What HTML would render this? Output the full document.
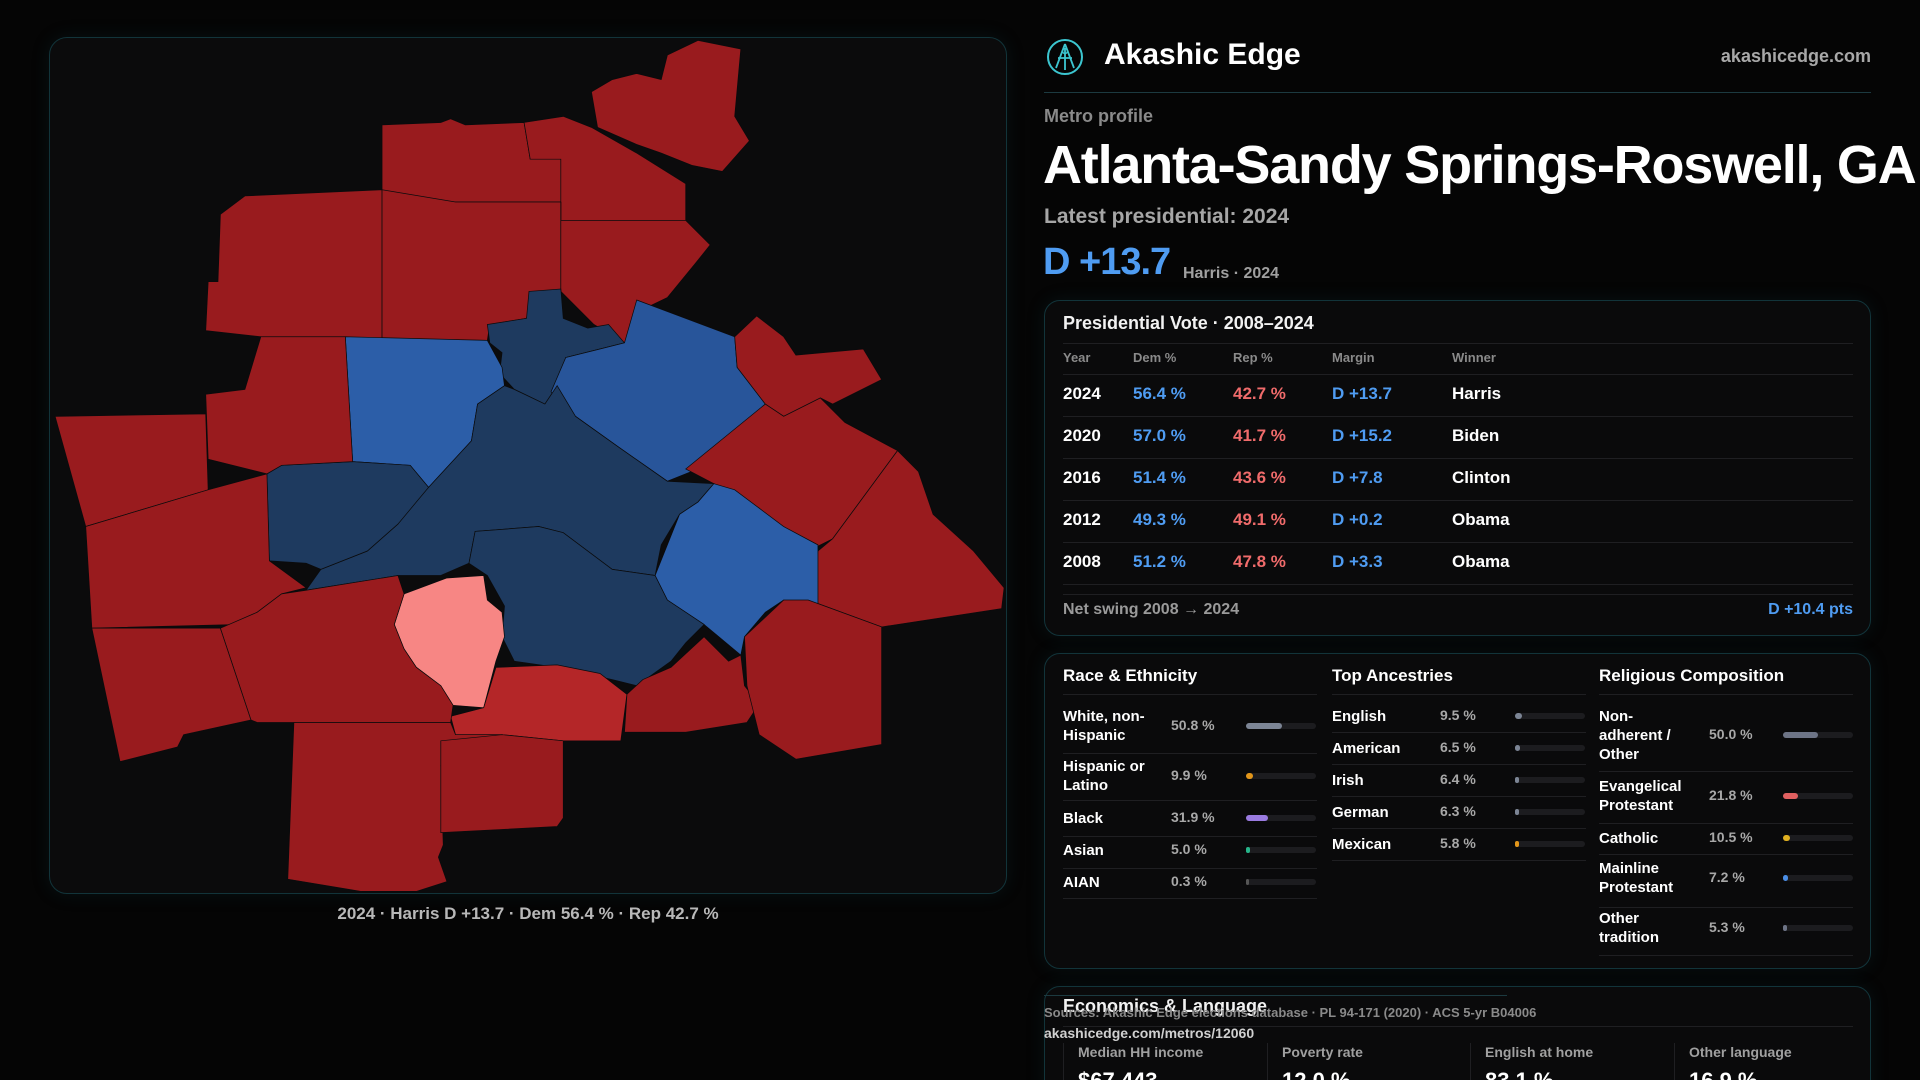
<!DOCTYPE html>
<html><head><meta charset="utf-8">
<style>
*{box-sizing:border-box;margin:0;padding:0}
html,body{width:1920px;height:1080px;overflow:hidden;background:#050505}
body{font-family:"Liberation Sans",sans-serif;color:#f2f2f2}
#root{position:relative;width:1920px;height:1080px;overflow:hidden}
.abs{position:absolute;white-space:nowrap}
.card{position:absolute;border:1px solid #12343a;border-radius:16px;background:#0a0a0b;box-shadow:0 0 18px rgba(20,80,90,0.18)}
.hl{position:absolute;height:1px;background:#1f1f22}
.g{color:#8d8d8d}
.bl{color:#4f9cf2}
.rd{color:#f06b6b}
.track{position:absolute;height:6px;border-radius:3px;background:#1c1c1f}
.fill{position:absolute;left:0;top:0;height:6px;border-radius:3px}
</style></head><body>
<div id="root">

<div class="card" style="left:49px;top:37px;width:958px;height:857px;border-radius:18px;background:#0b0b0c"></div>
<svg style="position:absolute;left:0;top:0" width="1920" height="1080" viewBox="0 0 1568 882">
<g stroke="#0b0b0c" stroke-width="0.6">
<polygon fill="#991b1e" points="483,75 500,65 520,60 540,65 545,45 570,33 605,40 600,95 612,115 590,140 565,135 540,125 520,118 488,104"/>
<polygon fill="#991b1e" points="312,102 360,100 368,97 380,102 428,100 433,130 460,130 458,165 372,165 312,165"/>
<polygon fill="#991b1e" points="428,100 460,95 483,104 520,125 560,150 560,180 458,180 458,130 433,130"/>
<polygon fill="#991b1e" points="180,175 200,160 312,155 312,277 213,275 168,270 170,230 178,230"/>
<polygon fill="#991b1e" points="312,155 372,165 458,165 458,238 433,243 430,260 400,265 398,278 312,277"/>
<polygon fill="#991b1e" points="458,180 560,180 580,200 568,215 545,243 520,255 510,280 485,265 458,238 458,165"/>
<polygon fill="#1e3a5f" points="398,265 430,260 432,238 458,236 460,260 480,268 497,265 510,280 490,285 462,292 455,315 445,330 420,318 408,305 410,288 400,280"/>
<polygon fill="#2c5ea8" points="282,275 398,278 410,300 412,315 390,330 385,360 350,398 335,380 288,377"/>
<polygon fill="#28559a" points="520,245 600,275 602,300 625,330 570,383 545,393 505,365 470,340 450,320 462,292 490,285 510,280"/>
<polygon fill="#991b1e" points="600,275 618,258 640,275 650,290 705,285 720,310 680,330 670,325 640,340 625,330 602,300"/>
<polygon fill="#991b1e" points="560,383 625,330 640,340 670,325 690,345 733,368 680,440 660,450 620,415 583,395"/>
<polygon fill="#991b1e" points="733,368 750,385 762,420 795,450 820,480 818,497 720,512 660,490 668,450 680,440"/>
<polygon fill="#1e3a5f" points="350,398 385,360 390,330 412,315 420,318 445,330 455,315 470,340 505,365 545,393 583,395 570,410 555,420 540,445 535,470 500,465 460,435 440,430 388,434 383,460 360,470 325,470 250,482 262,465 300,450 325,428 340,398"/>
<polygon fill="#1e3a5f" points="218,387 230,380 288,377 335,380 350,398 340,410 325,428 300,450 262,465 250,460 220,458"/>
<polygon fill="#2c5ea8" points="583,395 600,400 640,430 668,445 668,500 640,490 625,500 608,520 605,535 575,510 545,490 535,470 555,420 570,410"/>
<polygon fill="#1e3a5f" points="388,434 440,430 460,435 500,465 535,470 545,490 575,510 560,525 548,540 520,560 500,555 455,545 420,540 410,520 412,495 398,470 383,460"/>
<polygon fill="#f78684" points="322,510 330,485 365,472 395,470 398,490 410,500 412,520 405,540 395,578 370,576 360,560 340,545 330,530"/>
<polygon fill="#b42628" points="395,578 405,545 455,543 490,550 512,567 507,605 460,605 410,600 372,600 368,585"/>
<polygon fill="#991b1e" points="512,567 525,555 548,545 575,520 595,540 605,535 608,560 620,575 610,590 560,598 510,598"/>
<polygon fill="#991b1e" points="608,520 640,490 660,490 720,512 720,608 650,620 620,600 610,560"/>
<polygon fill="#991b1e" points="45,340 168,338 170,400 70,430"/>
<polygon fill="#991b1e" points="70,430 170,400 218,387 220,458 250,480 230,485 210,500 195,510 75,513"/>
<polygon fill="#991b1e" points="213,275 282,275 288,377 230,380 218,387 170,375 168,322 200,318"/>
<polygon fill="#991b1e" points="75,513 180,513 205,588 150,600 145,610 98,622"/>
<polygon fill="#991b1e" points="180,513 210,500 230,485 250,482 325,470 330,485 322,510 330,530 340,545 360,560 370,576 368,590 210,590 205,588"/>
<polygon fill="#991b1e" points="240,590 368,590 372,600 410,600 405,610 360,625 362,690 358,700 365,720 340,728 295,728 235,718"/>
<polygon fill="#991b1e" points="360,605 410,600 460,605 460,668 455,675 360,680"/>
</g>
</svg>
<div class="abs" style="left:0;width:1056px;top:904px;text-align:center;font-size:17px;font-weight:bold;color:#b8b8b8">2024 · Harris D +13.7 · Dem 56.4 % · Rep 42.7 %</div>

<svg class="abs" style="left:1046px;top:38px" width="38" height="38" viewBox="0 0 38 38"><circle cx="19" cy="19" r="17" fill="none" stroke="#3cc6d0" stroke-width="2"/><path d="M19 6 L10 30 M19 6 L28 30 M12 20 H26 M19 10 V32" stroke="#3cc6d0" stroke-width="1.8" fill="none"/><circle cx="19" cy="13" r="2.5" fill="none" stroke="#3cc6d0" stroke-width="1.5"/></svg>
<div class="abs" style="left:1104px;top:38px;font-size:30px;font-weight:bold;color:#fff">Akashic Edge</div>
<div class="abs" style="right:49px;top:46px;font-size:18px;font-weight:bold;color:#a8a8a8">akashicedge.com</div>
<div class="hl" style="left:1044px;top:92px;width:827px;background:#1c3a40"></div>
<div class="abs g" style="left:1044px;top:106px;font-size:18px;font-weight:bold;color:#8a8a8a">Metro profile</div>
<div class="abs" style="left:1043px;top:134px;font-size:54px;font-weight:bold;color:#fff;letter-spacing:-1.2px">Atlanta-Sandy Springs-Roswell, GA</div>
<div class="abs" style="left:1044px;top:205px;font-size:21px;font-weight:bold;color:#a6a6a6">Latest presidential: 2024</div>
<div class="abs bl" style="left:1043px;top:241px;font-size:38px;font-weight:bold;color:#4f9cf2;letter-spacing:-1px">D +13.7</div>
<div class="abs" style="left:1183px;top:265px;font-size:16px;font-weight:bold;color:#a0a0a0">Harris · 2024</div>

<div class="card" style="left:1044px;top:300px;width:827px;height:336px"></div>
<div class="abs" style="left:1063px;top:313px;font-size:18px;font-weight:bold">Presidential Vote · 2008–2024</div>
<div class="hl" style="left:1063px;top:343px;width:790px"></div>
<div class="hl" style="left:1063px;top:594px;width:790px"></div>
<div class="abs" style="left:1063px;top:601px;font-size:16px;font-weight:bold;color:#9a9a9a">Net swing 2008 → 2024</div>
<div class="abs bl" style="right:67px;top:601px;font-size:16px;font-weight:bold">D +10.4 pts</div>

<div class="card" style="left:1044px;top:653px;width:827px;height:316px"></div>

<div class="card" style="left:1044px;top:986px;width:827px;height:120px"></div>
<div class="hl" style="left:1044px;top:995px;width:463px;background:#1c3a40"></div>
<div class="abs" style="left:1063px;top:996px;font-size:18px;font-weight:bold">Economics &amp; Language</div>
<div class="abs" style="left:1044px;top:1005px;font-size:13px;font-weight:bold;color:#8a8a8a">Sources: Akashic Edge elections database · PL 94-171 (2020) · ACS 5-yr B04006</div>
<div class="hl" style="left:1063px;top:1026px;width:790px"></div>
<div class="abs" style="left:1044px;top:1025px;font-size:14px;font-weight:bold;color:#d0d0d0">akashicedge.com/metros/12060</div>
</div>

<script>
const years=["2024","2020","2016","2012","2008"];
const demPct=[56.4,57.0,51.4,49.3,51.2];
const repPct=[42.7,41.7,43.6,49.1,47.8];
const margins=["D +13.7","D +15.2","D +7.8","D +0.2","D +3.3"];
const winners=["Harris","Biden","Clinton","Obama","Obama"];

const raceLabels=["White, non-<br>Hispanic","Hispanic or<br>Latino","Black","Asian","AIAN"];
const raceVals=[50.8,9.9,31.9,5.0,0.3];
const ancLabels=["English","American","Irish","German","Mexican"];
const ancVals=[9.5,6.5,6.4,6.3,5.8];
const relLabels=["Non-<br>adherent /<br>Other","Evangelical<br>Protestant","Catholic","Mainline<br>Protestant","Other<br>tradition"];
const relVals=[50.0,21.8,10.5,7.2,5.3];

const econLabels=["Median HH income","Poverty rate","English at home","Other language"];
const econVals=["$67,443","12.0 %","83.1 %","16.9 %"];

const root=document.getElementById('root');
function mk(html,style,cls){const d=document.createElement('div');d.className='abs '+(cls||'');d.style.cssText=style;d.innerHTML=html;root.appendChild(d);return d;}

const cols=[1063,1133,1233,1332,1452];
const heads=["Year","Dem %","Rep %","Margin","Winner"];
heads.forEach((h,i)=>{const e=mk(h,`left:${cols[i]}px;top:350px;font-size:13px;font-weight:bold;color:#8a8a8a`);

});
const hd=mk('',`left:1063px;top:374px;width:790px;height:1px;background:#1f1f22`);


years.forEach((y,i)=>{
  const top=384+i*42;
  const isD=margins[i].charAt(0)==='D';
  const cells=[[y,'#fff'],[demPct[i].toFixed(1)+" %",'#4f9cf2'],[repPct[i].toFixed(1)+" %",'#f06b6b'],[margins[i],isD?'#4f9cf2':'#f06b6b'],[winners[i],'#fff']];
  cells.forEach((c,j)=>{const e=mk(c[0],`left:${cols[j]}px;top:${top}px;font-size:17px;font-weight:bold;color:${c[1]}`);
    
    });
  const l=mk('',`left:1063px;top:${top+32}px;width:790px;height:1px;background:#1f1f22`);
  
  
});

function section(title,x,labels,vals,colors,valX,barX,rowTops,rowBottoms){
  const t=mk(title,`left:${x}px;top:666px;font-size:17px;font-weight:bold;color:#fff`);
  
  
  const l0=mk('',`left:${x}px;top:694px;width:254px;height:1px;background:#1f1f22`);
  
  
  labels.forEach((lab,i)=>{
    const c=rowTops[i];
    const lines=lab.split('<br>').length;
    const a=mk(lab,`left:${x}px;top:${c-lines*9.5}px;font-size:15px;font-weight:bold;line-height:19px;color:#fff`);
    
    
    const v=mk(vals[i].toFixed(1)+" %",`left:${valX}px;top:${c-9}px;font-size:14px;font-weight:bold;color:#a8a8a8`);
    
    
    const tr=mk('',`left:${barX}px;top:${c-3}px;width:70px`,'track');
    
    
    const f=document.createElement('div');f.className='fill';
    f.style.width=Math.max(3,vals[i]/100*70)+'px';f.style.background=colors[i];
    
    
    tr.appendChild(f);
    const d=mk('',`left:${x}px;top:${rowBottoms[i]}px;width:254px;height:1px;background:#1f1f22`);
    
    
  });
}
section("Race &amp; Ethnicity",1063,raceLabels,raceVals,["#7c8595","#e2961a","#9a7be0","#26b58a","#555"],1171,1246,[726,776,818,850,882],[753,800,836,868,898]);
section("Top Ancestries",1332,ancLabels,ancVals,["#7c8595","#7c8595","#7c8595","#7c8595","#e2961a"],1440,1515,[716,748,780,812,844],[732,764,796,828,860]);
section("Religious Composition",1599,relLabels,relVals,["#6d7486","#e06060","#e0b020","#4a8ee6","#6d7486"],1709,1783,[735,796,838,878,928],[771,823,854,907,955]);

const ex=[1063,1267,1470,1674];
econLabels.forEach((l,i)=>{
  const s=mk('',`left:${ex[i]}px;top:1043px;width:1px;height:37px;background:#1f1f22`);
  
  
  const a=mk(l,`left:${ex[i]+15}px;top:1044px;font-size:14px;font-weight:bold;color:#a0a0a0`);
  
  
  const b=mk(econVals[i],`left:${ex[i]+15}px;top:1068px;font-size:22px;font-weight:bold;color:#fff`);
  
  
});
</script>
</body></html>
